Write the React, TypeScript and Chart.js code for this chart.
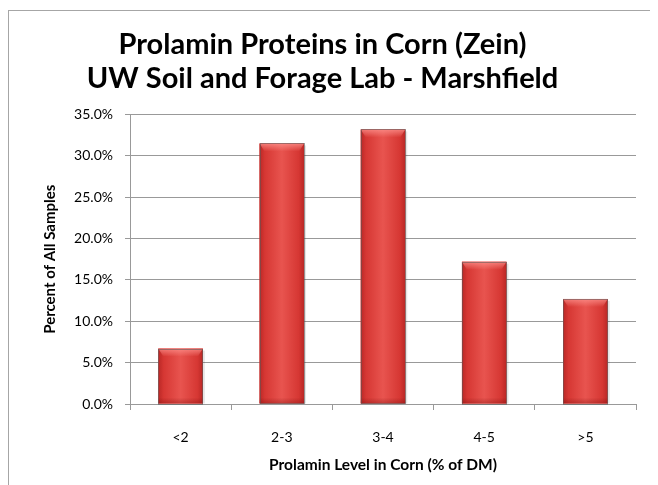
import React, { useEffect, useRef } from "react";
import { Chart, registerables } from "chart.js";

Chart.register(...registerables);

const categories = ["<2", "2-3", "3-4", "4-5", ">5"];
const percentValues = [6.7, 31.5, 33.2, 17.2, 12.7];
const yTicks = [0, 5, 10, 15, 20, 25, 30, 35];
const titleLines = ["Prolamin Proteins in Corn (Zein)", "UW Soil and Forage Lab - Marshfield"];
const yAxisTitle = "Percent of All Samples";
const xAxisTitle = "Prolamin Level in Corn (% of DM)";

const FONT = "Lato, 'Liberation Sans', sans-serif";

const bevelPlugin = {
  id: "bevelBars",
  afterDatasetsDraw(chart: any) {
    const ctx = chart.ctx;
    const meta = chart.getDatasetMeta(0);
    meta.data.forEach((el: any) => {
      const p = el.getProps(["x", "y", "base", "width"], true);
      const l = p.x - p.width / 2;
      const r = p.x + p.width / 2;
      const t = p.y;
      const b = p.base;
      const w = r - l;
      ctx.save();
      ctx.fillStyle = "rgba(0,0,0,0.10)";
      ctx.fillRect(r, t + 2, 2, b - t - 2);
      const g = ctx.createLinearGradient(l, 0, r, 0);
      g.addColorStop(0, "#ba2826");
      g.addColorStop(0.12, "#d63733");
      g.addColorStop(0.5, "#e8544f");
      g.addColorStop(0.88, "#d63733");
      g.addColorStop(1, "#ba2826");
      ctx.fillStyle = g;
      ctx.fillRect(l, t, w, b - t);
      const bh = Math.min(8, (b - t) / 2);
      const g2 = ctx.createLinearGradient(0, t, 0, t + bh);
      g2.addColorStop(0, "rgba(255,150,145,0.75)");
      g2.addColorStop(1, "rgba(255,150,145,0)");
      ctx.fillStyle = g2;
      ctx.beginPath();
      ctx.moveTo(l, t);
      ctx.lineTo(r, t);
      ctx.lineTo(r - 5, t + bh);
      ctx.lineTo(l + 5, t + bh);
      ctx.closePath();
      ctx.fill();
      const g3 = ctx.createLinearGradient(0, b - 6, 0, b);
      g3.addColorStop(0, "rgba(120,10,10,0)");
      g3.addColorStop(1, "rgba(120,10,10,0.35)");
      ctx.fillStyle = g3;
      ctx.fillRect(l, b - 6, w, 6);
      ctx.strokeStyle = "rgba(90,90,90,0.55)";
      ctx.lineWidth = 1;
      ctx.strokeRect(Math.round(l) + 0.5, Math.round(t) + 0.5, Math.round(w) - 1, Math.round(b - t));
      ctx.restore();
    });
  },
};

export default function App() {
  const canvasRef = useRef<HTMLCanvasElement | null>(null);

  useEffect(() => {
    const canvas = canvasRef.current;
    if (!canvas) return;
    const chart = new Chart(canvas, {
      type: "bar",
      data: {
        labels: categories,
        datasets: [
          {
            data: percentValues,
            backgroundColor: "#d93a36",
            borderWidth: 0,
            barPercentage: 0.44,
            categoryPercentage: 1,
          },
        ],
      },
      options: {
        responsive: false,
        animation: false,
        devicePixelRatio: 1,
        layout: { padding: { left: 0, right: 22, top: 0, bottom: 0 } },
        plugins: {
          legend: { display: false },
          tooltip: { enabled: false },
          title: {
            display: true,
            text: titleLines,
            color: "#000000",
            font: { family: FONT, size: 29, weight: "bold", lineHeight: 1.15 },
            padding: { top: 17.3, bottom: 19.5 },
          },
        },
        scales: {
          x: {
            offset: true,
            grid: {
              display: true,
              drawOnChartArea: false,
              drawTicks: true,
              tickLength: 6,
              color: "#999999",
              offset: true,
            },
            border: { display: true, color: "#999999", width: 1 },
            ticks: {
              color: "#000000",
              padding: 18.6,
              font: { family: FONT, size: 14 },
            },
            title: {
              display: true,
              text: xAxisTitle,
              color: "#000000",
              font: { family: FONT, size: 15.5, weight: "bold", lineHeight: 1.2 },
              padding: { top: 0, bottom: 11 },
            },
            afterFit: (scale: any) => {
              scale.height = 81;
            },
          },
          y: {
            min: 0,
            max: 35,
            afterBuildTicks: (scale: any) => {
              scale.ticks = yTicks.map((v) => ({ value: v }));
            },
            grid: {
              color: "#999999",
              drawTicks: true,
              tickLength: 5,
            },
            border: { display: true, color: "#999999", width: 1 },
            ticks: {
              color: "#000000",
              padding: 12,
              font: { family: FONT, size: 14 },
              callback: (v: any) => Number(v).toFixed(1) + "%",
            },
            title: {
              display: true,
              text: yAxisTitle,
              color: "#000000",
              font: { family: FONT, size: 15, weight: "bold", lineHeight: 1.2 },
              padding: { top: 32, bottom: 0 },
            },
            afterFit: (scale: any) => {
              scale.width = 121;
            },
          },
        },
      },
      plugins: [bevelPlugin],
    });
    return () => chart.destroy();
  }, []);

  return (
    <div
      style={{
        marginTop: 2,
        width: 650,
        height: 475,
        boxSizing: "border-box",
        borderLeft: "1px solid #a6a6a6",
        borderTop: "1px solid #a6a6a6",
        background: "#ffffff",
        overflow: "hidden",
      }}
    >
      <canvas ref={canvasRef} width={649} height={474} style={{ display: "block" }} />
    </div>
  );
}
